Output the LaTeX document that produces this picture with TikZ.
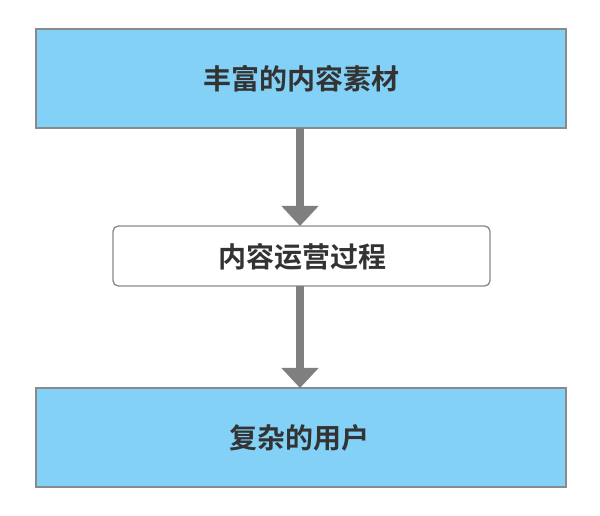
\documentclass[tikz,border=0pt]{standalone}
\usepackage{fontspec}
\newfontfamily\cjk{Noto Sans CJK SC}[BoldFont={Noto Sans CJK SC Bold}]
\usetikzlibrary{arrows.meta}
\definecolor{boxblue}{HTML}{83D1F7}
\definecolor{boxline}{HTML}{8A8A8A}
\definecolor{arrowgray}{HTML}{7F7F7F}
\definecolor{txt}{HTML}{333333}
\begin{document}
\begin{tikzpicture}[x=0.75pt,y=-0.75pt,
  bluebox/.style={draw=boxline,line width=1.5pt,fill=boxblue},
  whitebox/.style={draw=boxline,line width=1pt,fill=white,rounded corners=4pt},
  lbl/.style={text=txt,font=\cjk\bfseries\fontsize{21}{24}\selectfont},
  flow/.style={draw=arrowgray,line width=6pt,-{Triangle[width=27pt,length=15pt]}}]
\useasboundingbox (0,0) rectangle (600,516);
\path[bluebox] (36,29) rectangle (566,128);
\node[lbl] (top) at (301,79) {丰富的内容素材};
\coordinate (topb) at (300,128);
\path[whitebox] (113,226) rectangle (490,286);
\node[lbl] (mid) at (302,257) {内容运营过程};
\coordinate (midt) at (300,226);
\coordinate (midb) at (300,286);
\path[bluebox] (36,388) rectangle (566,487);
\node[lbl] (bot) at (299,438) {复杂的用户};
\coordinate (bott) at (300,388);
\draw[flow] (topb) -- (midt);
\draw[flow] (midb) -- (bott);
\end{tikzpicture}
\end{document}
